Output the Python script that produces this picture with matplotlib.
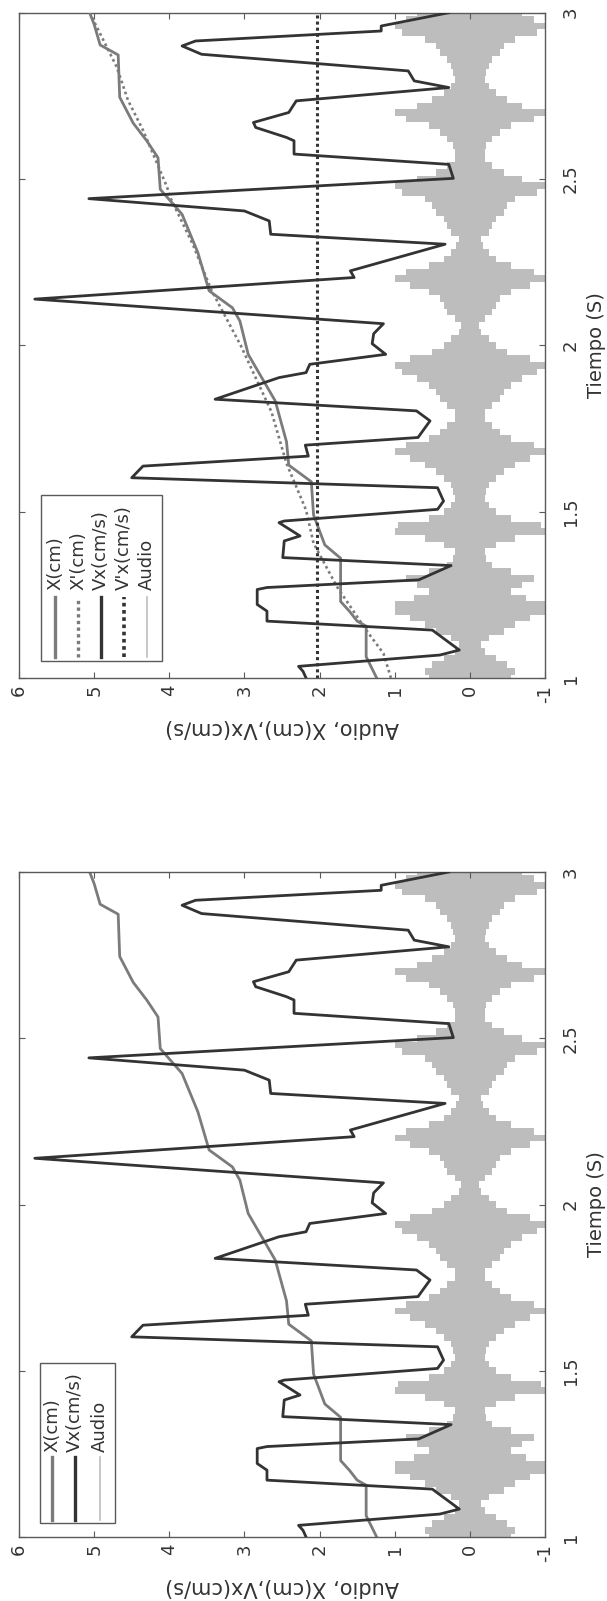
import numpy as np
import matplotlib
matplotlib.use("Agg")
import matplotlib.pyplot as plt
from matplotlib.patches import Rectangle
from matplotlib.lines import Line2D

# ---------------- data ----------------
vx_t = [1.000, 1.020, 1.035, 1.069, 1.084, 1.144, 1.171, 1.201, 1.221, 1.266,
        1.272, 1.295, 1.338, 1.362, 1.412, 1.427, 1.467, 1.472, 1.507, 1.532,
        1.572, 1.602, 1.637, 1.667, 1.700, 1.723, 1.773, 1.803, 1.838, 1.903,
        1.918, 1.943, 1.973, 2.005, 2.035, 2.065, 2.139, 2.204, 2.224, 2.304,
        2.334, 2.374, 2.404, 2.441, 2.502, 2.544, 2.575, 2.615, 2.625, 2.655,
        2.670, 2.700, 2.735, 2.775, 2.795, 2.825, 2.875, 2.900, 2.915, 2.945,
        2.960, 3.000]
vx_v = [2.18, 2.22, 2.28, 0.40, 0.14, 0.50, 2.70, 2.70, 2.83, 2.83,
        2.70, 0.68, 0.25, 2.49, 2.47, 2.26, 2.54, 2.47, 0.43, 0.35,
        0.43, 4.50, 4.35, 2.15, 2.19, 0.69, 0.53, 0.71, 3.39, 2.54,
        2.18, 2.13, 1.12, 1.30, 1.28, 1.15, 5.79, 1.54, 1.59, 0.33,
        2.65, 2.67, 3.00, 5.07, 0.22, 0.28, 2.34, 2.34, 2.44, 2.85,
        2.88, 2.41, 2.31, 0.28, 0.74, 0.82, 3.57, 3.83, 3.65, 1.18,
        1.18, 0.28]

x_t = [1.000, 1.064, 1.156, 1.171, 1.200, 1.230, 1.360, 1.400, 1.490, 1.590,
       1.640, 1.710, 1.833, 1.973, 2.073, 2.113, 2.164, 2.279, 2.394, 2.469,
       2.564, 2.615, 2.668, 2.746, 2.873, 2.903, 2.965, 3.000]
x_v = [1.24, 1.38, 1.38, 1.50, 1.60, 1.72, 1.72, 1.93, 2.08, 2.11,
       2.41, 2.44, 2.59, 2.95, 3.06, 3.16, 3.47, 3.62, 3.83, 4.12,
       4.15, 4.30, 4.48, 4.66, 4.68, 4.92, 5.00, 5.06]

xp_t = [1.000, 1.074, 1.144, 1.275, 1.405, 1.505, 1.645, 1.800, 2.000, 2.166,
        2.300, 2.446, 2.476, 2.647, 2.737, 2.837, 2.878, 3.000]
xp_v = [1.05, 1.15, 1.38, 1.77, 2.08, 2.18, 2.44, 2.64, 3.05, 3.44,
        3.68, 3.99, 4.03, 4.35, 4.55, 4.70, 4.79, 5.06]

vpx_t = [1.0, 3.0]
vpx_v = [2.03, 2.03]

audio_t = [round(1.0 + 0.02 * i, 2) for i in range(101)]
audio_env = [0.55, 0.60, 0.50, 0.35, 0.20, 0.15, 0.25, 0.45, 0.60, 0.80,
             1.00, 1.00, 0.75, 0.55, 0.70, 0.85, 0.55, 0.30, 0.22, 0.20,
             0.35, 0.60, 1.00, 0.95, 0.55, 0.35, 0.25, 0.20, 0.22, 0.25,
             0.35, 0.45, 0.60, 0.80, 1.00, 0.85, 0.55, 0.40, 0.30, 0.20,
             0.20, 0.30, 0.40, 0.45, 0.55, 0.70, 0.90, 1.00, 0.80, 0.50,
             0.35, 0.25, 0.15, 0.12, 0.20, 0.30, 0.35, 0.40, 0.55, 0.80,
             1.00, 0.85, 0.55, 0.35, 0.25, 0.18, 0.15, 0.25, 0.30, 0.35,
             0.45, 0.50, 0.60, 0.90, 1.00, 0.70, 0.45, 0.30, 0.20, 0.20,
             0.22, 0.30, 0.40, 0.55, 0.85, 1.00, 0.70, 0.50, 0.35, 0.25,
             0.20, 0.22, 0.25, 0.30, 0.40, 0.45, 0.60, 0.90, 1.00, 0.85,
             0.70]

value_ticks = [-1, 0, 1, 2, 3, 4, 5, 6]
time_ticks = [1, 1.5, 2, 2.5, 3]
time_ticklabels = ["1", "1.5", "2", "2.5", "3"]
xlabel_text = "Audio, X(cm),Vx(cm/s)"
ylabel_text = "Tiempo (S)"

# ---------------- styles ----------------
C_VX = "#333333"
C_X = "#7b7b7b"
C_AUD = "#bdbdbd"
C_SPINE = "#5a5a5a"
C_TEXT = "#333333"

W, H = 607, 1601
fig = plt.figure(figsize=(W / 100, H / 100), dpi=100)
fig.patch.set_facecolor("white")

ax1 = fig.add_axes([19 / W, 1 - 678 / H, 526 / W, 665.3 / H])
ax2 = fig.add_axes([19 / W, 1 - 1537 / H, 526 / W, 665.0 / H])


def style_axes(ax):
    ax.set_xlim(6, -1)
    ax.set_ylim(1, 3)
    ax.set_xticks(value_ticks)
    ax.set_xticklabels([str(v) for v in value_ticks])
    ax.set_yticks(time_ticks)
    ax.set_yticklabels(time_ticklabels)
    for s in ax.spines.values():
        s.set_color(C_SPINE)
        s.set_linewidth(1.0)
    ax.tick_params(axis="both", direction="in", length=4, width=0.8,
                   color=C_SPINE, top=True, bottom=True, left=True, right=True,
                   labelleft=False, labelright=True, labelsize=13,
                   labelcolor=C_TEXT)
    ax.tick_params(axis="x", labelrotation=90, pad=5)
    ax.tick_params(axis="y", labelrotation=90, pad=12)
    for lab in ax.get_yticklabels():
        lab.set_va("center")
    ax.yaxis.set_label_position("right")
    ax.set_ylabel(ylabel_text, rotation=90, fontsize=14, color=C_TEXT,
                  labelpad=5)
    ax.set_xlabel(xlabel_text, rotation=180, fontsize=15, color=C_TEXT,
                  labelpad=11)


def draw_common(ax):
    ax.fill_betweenx(audio_t, [-a for a in audio_env], audio_env,
                     color=C_AUD, lw=0, zorder=1, step="mid")
    ax.plot(x_v, x_t, color=C_X, lw=2.0, zorder=2)


def draw_legend(ax, box, entries, y_line, y_text):
    x0, y0, x1, y1 = box
    ax.add_patch(Rectangle((x0, y0), x1 - x0, y1 - y0, transform=ax.transAxes,
                           facecolor="white", edgecolor=C_SPINE, lw=1.0,
                           zorder=10))
    for fx, kw, label in entries:
        ax.add_line(Line2D([fx, fx], list(y_line), transform=ax.transAxes,
                           zorder=11, **kw))
        ax.text(fx, y_text, label, transform=ax.transAxes, rotation=90,
                ha="center", va="bottom", fontsize=13, color=C_TEXT,
                zorder=12)


sty_x = dict(color=C_X, lw=2.4)
sty_xp = dict(color=C_X, lw=2.4, linestyle=(0, (1, 1)))
sty_vx = dict(color=C_VX, lw=2.4)
sty_vpx = dict(color=C_VX, lw=2.6, linestyle=(0, (1, 1)))
sty_aud = dict(color=C_AUD, lw=1.2)

# ---- upper panel (with X' and V'x) ----
draw_common(ax1)
ax1.plot(xp_v, xp_t, color=C_X, lw=1.9, linestyle=(0, (1, 1.2)), zorder=3)
ax1.plot(vx_v, vx_t, color=C_VX, lw=2.0, zorder=4)
ax1.plot(vpx_v, vpx_t, color=C_VX, lw=2.2, linestyle=(0, (1, 1)), zorder=5)
style_axes(ax1)
draw_legend(ax1, (0.0418, 0.0256, 0.2719, 0.275),
            [(0.0684, sty_x, "X(cm)"),
             (0.1122, sty_xp, "X'(cm)"),
             (0.1559, sty_vx, "Vx(cm/s)"),
             (0.1996, sty_vpx, "V'x(cm/s)"),
             (0.2433, sty_aud, "Audio")],
            (0.0316, 0.1218), 0.132)

# ---- lower panel ----
draw_common(ax2)
ax2.plot(vx_v, vx_t, color=C_VX, lw=2.0, zorder=4)
style_axes(ax2)
draw_legend(ax2, (0.040, 0.021, 0.1825, 0.2617),
            [(0.0627, sty_x, "X(cm)"),
             (0.1065, sty_vx, "Vx(cm/s)"),
             (0.1540, sty_aud, "Audio")],
            (0.0256, 0.120), 0.128)

fig.savefig("out.png", dpi=100, facecolor="white")
